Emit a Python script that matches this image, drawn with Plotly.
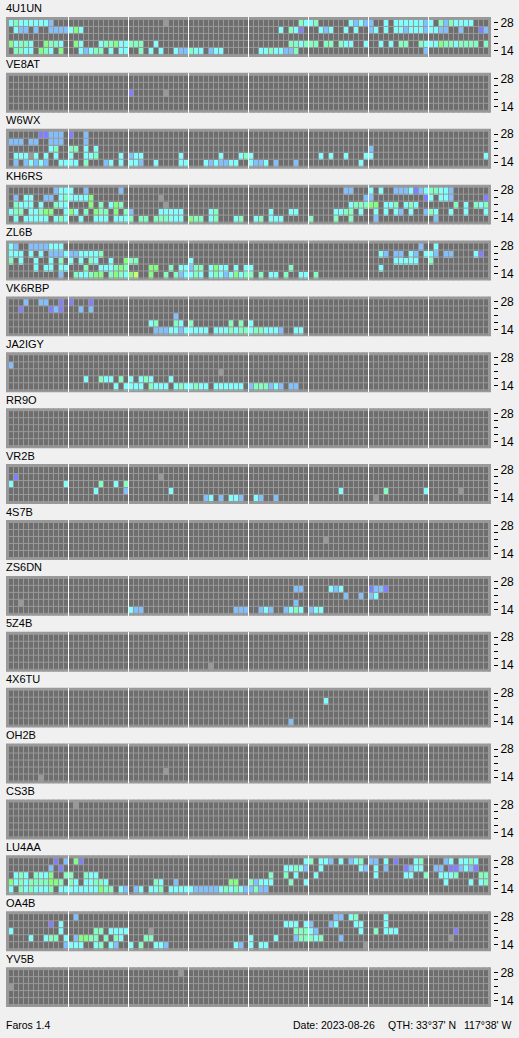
import re
import plotly.graph_objects as go

# Each station: five rows, top (28 MHz) to bottom (14 MHz); tokens are "<slot><level>"
S_4U1UN = [
 "0c 1a 2c 3c 4c 5c 6c 7c 8b 31g 58a 59c 60c 61a 68c 69b 70c 71b 72b 75c 77c 78c 79c 80c 81c 82c 83b 84c 86a 87b 88a 89c 90c 91c 92c",
 "1c 2b 3b 5b 8b 9b 10b 11b 12c 13n 14c 54c 56a 57c 58p 62c 63b 64c 67c 69c 72b 73c 75c 77c 78c 79b 80c 81c 82c 83b 84c 85c 86b 87b 90b 94p 95b",
 "",
 "0n 1c 2a 3a 4c 7n 8a 9a 10c 13n 14c 18c 19a 20a 21n 22c 23c 24a 25a 26a 29c 56a 57a 58c 59a 60a 61a 63a 64a 66a 67c 68c 71c 74c 76c 78a 79a 82a 83c 84c 85c 86n 87a 88a 89c 90a 91a 92a 93a 95a",
 "1a 2a 3c 4c 6n 7a 8c 10n 14c 15b 16c 17a 18a 20c 22c 23c 26a 28c 30c 33c 34b 35b 36a 37c 38c 40b 41c 42c 50c 51c 52a 53c 54c 55b 56b 57a 83b",
]
S_VE8AT = ["", "", "24p 31g", "", ""]
S_W6WX = [
 "6p 7p 8b 9b 10b 12p 15b",
 "0b 1b 2b 4b 5b 8b 9b 10b 15b",
 "8c 9a 12a 13a 15c 17c 72b",
 "1c 2c 3c 4g 5c 7c 9c 12c 15c 16c 17a 22c 24b 25c 26c 34c 42c 46c 47a 48c 62c 64c 67c 71c 72c 95c",
 "1b 3b 4c 5b 6c 7b 10c 11c 12c 13c 15a 19b 20c 22c 24c 25c 26b 29c 34c 35c 39c 40b 41c 42b 43b 44c 45c 48c 49b 50b 51c 53b 57b 70c",
]
S_KH6RS = [
 "9b 10c 11c 12c 15b 22b 67b 68b 72c 74c 77b 78b 79b 80c 81p 82b 83c 84a 85a 86c 87c 88b",
 "1b 3c 4c 7b 8b 10c 11a 12c 13c 14c 15c 16n 30g 71b 72b 83p 84c 86c 87c 88b 95p",
 "1a 2c 3c 4c 6c 9a 10c 11c 16n 18a 20c 21n 22a 31g 68c 69a 70a 71a 72n 73n 75c 76c 77a 79c 80a 81c 89a 91c 93a 94c 95a",
 "0c 1a 2a 4c 5c 6a 7n 8n 11c 12n 13c 15a 17n 18a 19a 21n 23a 24b 30c 31c 32c 33c 34c 40c 41a 52c 56c 57c 65c 66c 67a 68a 70c 73c 75c 77c 78b 80c 83b 84a 85c 88c 91c 95c",
 "1c 3c 4c 5c 6c 7c 9c 10a 11c 14c 17c 18c 19c 21c 22c 23c 24a 26a 27a 29a 30a 31a 32c 33c 34c 36n 37a 38a 40c 41a 45c 46a 49c 50a 52c 53c 54c 60a 65a 68a 73b 85b",
]
S_ZL6B = [
 "0c 1b 4b 5b 6b 7b 8c 9c 10c 82b 85c",
 "0c 1c 2c 4c 6c 8b 9b 10b 11c 12b 13b 14c 15c 16c 17c 18a 74c 75b 77b 78b 80c 81b 83c 84c 85b 87b 88b 93c 94p",
 "0a 2c 5c 8c 10a 12c 14c 16a 17c 20c 23n 24a 25a 36c 77c 78c 79c 80c 81c 84a",
 "5c 7c 8c 10c 11c 15a 18c 19c 20c 21a 22n 23a 28n 29n 32a 34c 35c 36b 37a 38a 40c 41n 42c 43c 45c 47c 48c 56a 74c",
 "10b 13a 14c 15c 16a 17n 18n 20a 21n 22a 23c 24n 25y 28n 31a 33a 34b 35c 36c 37a 38c 40c 41a 42c 43b 44c 45n 46c 47a 48a 50a 52c 53c 55a 58c 59c 61a",
]
S_VK6RBP = [
 "3b 6b 7b 10p 12p 16p",
 "2p 8p 9b 10p 14b 16b",
 "33b",
 "28c 29a 33a 34c 36a 44a 46a 48c",
 "29b 30b 31b 32c 33c 34b 35c 36c 37c 38c 39c 41c 42c 43c 44a 45c 46a 47a 48c 49a 50a 51c 52c 53c 54b 57c 58c",
]
S_JA2IGY = [
 "",
 "0b",
 "42g",
 "15c 18a 19c 20c 22a 24c 26c 27a 28c 32c",
 "21c 23c 24c 25c 26c 28a 29c 30c 31c 33c 34a 35c 36c 37a 38c 39c 41c 42c 43c 44c 45c 46c 48b 49a 50a 51a 52b 53c 54b 56b 57b",
]
S_RR9O = ["", "", "", "", ""]
S_VR2B = [
 "",
 "1p 30g",
 "0c 11c 18a 21c 23a",
 "17c 23b 32c 66c 75a 83c 90g",
 "39b 40c 42b 44c 45c 46b 49c 50b 53b 73g",
]
S_4S7B = ["", "", "63g", "", ""]
S_ZS6DN = [
 "",
 "57b 58b 64c 65b 66c 72p 73b 74b 75p",
 "67b 70b 72b 73c",
 "2g 57b",
 "24c 25b 26b 45b 46b 47b 50b 51c 52b 55b 56c 57a 58c 60b 61c 62c",
]
S_5Z4B = ["", "", "", "", "40g"]
S_4X6TU = ["", "63c", "", "", "56b"]
S_OH2B = ["", "", "", "31g", "6g"]
S_CS3B = ["13g", "", "", "", ""]
S_LU4AA = [
 "9p 11b 13n 14p 59c 60a 62c 63c 64b 66c 68b 69c 70a 72b 73b 75c 77p 81c 82a 87b 88c 90c 91c 92a 93c",
 "8b 10p 55c 56c 57a 58c 59b 62c 70c 71b 73c 75b 79p 80b 81c 82c 85b 86b 88p 89p 90b 91c 92b 93p",
 "1c 2a 3c 5a 6c 7c 8n 11a 12a 15a 16c 17c 52a 55a 57c 61c 73c 79c 80c 83a 86c 87c 88c 89a 94a 95a",
 "0n 1c 2a 3c 4a 5a 6a 7a 8n 9n 10a 12a 13c 15c 16c 17a 18a 19c 29a 30c 33b 44n 45n 48a 49b 50c 51c 52c 56a 59c 87c 92c 94c 95a",
 "0c 2a 3c 4a 5c 6c 7c 8a 10c 11c 12c 13c 14c 15c 16c 17c 18n 19a 20a 22c 23b 25b 26c 28c 29c 30a 32c 33c 34c 35c 36c 37b 38b 39b 40b 41b 42c 43a 44c 45a 46c 47b 48b 49a 50b 51b",
]
S_OA4B = [
 "13b 65b 66b 68c 69a 75c",
 "8p 10c 55c 56c 57c 59c 60b 64b 65c 69c 70c 75c",
 "0c 10c 17a 18a 20c 21c 22c 23c 28g 57a 58a 59a 60c 61b 70c 73a 75c 76c 77c 89p",
 "4c 7c 8a 9a 11c 13b 14n 15n 16a 17a 19a 21a 22c 27a 28a 48c 53c 57b 58a 59a 60a 61c 62a 66b 88g",
 "11b 12c 13c 14c 17c 18a 20c 21b 24c 26a 29c 30c 31b 45c 46b 48c 50c 51c 71g",
]
S_YV5B = ["34g", "", "0g", "", ""]

STATIONS = ["4U1UN", "VE8AT", "W6WX", "KH6RS", "ZL6B", "VK6RBP", "JA2IGY", "RR9O", "VR2B",
            "4S7B", "ZS6DN", "5Z4B", "4X6TU", "OH2B", "CS3B", "LU4AA", "OA4B", "YV5B"]
ROWS = [S_4U1UN, S_VE8AT, S_W6WX, S_KH6RS, S_ZL6B, S_VK6RBP, S_JA2IGY, S_RR9O, S_VR2B,
        S_4S7B, S_ZS6DN, S_5Z4B, S_4X6TU, S_OH2B, S_CS3B, S_LU4AA, S_OA4B, S_YV5B]
BAND_LABELS = ["14", "", "", "", "28"]
SLOTS = 96
BANDS = 5
SLOTS_PER_BLOCK = 12
LEVEL_CODES = {"g": 1, "p": 2, "b": 3, "c": 4, "a": 5, "n": 6, "y": 7}
LEVEL_COLORS = ["#6e6e6e", "#999999", "#8080ff", "#80c0ff", "#80ffff", "#80ffc0", "#80ff80", "#c8ff70"]
FOOTER_LEFT = "Faros 1.4"
FOOTER_DATE = "Date: 2023-08-26"
FOOTER_QTH = "QTH: 33°37' N"
FOOTER_LON = "117°38' W"

W, H = 519, 1038
PAGE = "#f0f0f0"
FONT = "Liberation Sans"

def grid(rows):
    z = [[0] * SLOTS for _ in rows]
    for r, text in enumerate(rows):
        for slot, code in re.findall(r"(\d+)([a-z])", text):
            z[r][int(slot)] = LEVEL_CODES[code]
    return z[::-1]

n = len(LEVEL_COLORS)
colorscale = []
for i, c in enumerate(LEVEL_COLORS):
    colorscale += [[i / n, c], [(i + 1) / n, c]]

# pixel geometry: slots step 5px, bands step 7px, cells are separated by 1px lines
XP, YP = 5.0, 7.0
XMIN, XMAX, XEDGE = -1.1, 96.3, 95.9
YMIN, YMAX = -0.5 - 2 / YP, BANDS - 0.5 + 3 / YP
LINE_Y = 3 / YP               # offset of the 1px separator under a band centre

sep_x, sep_y = [], []
for i in range(SLOTS):
    sep_x += [i + 0.4, i + 0.4, None]
    sep_y += [YMIN, YMAX, None]
for r in range(BANDS):
    sep_x += [XMIN, XEDGE, None]
    sep_y += [r - LINE_Y, r - LINE_Y, None]

fig = go.Figure()
shapes, annotations = [], []
top0, pitch, ph = 16, 56, 40
pl, pr = 6, 493     # plot area, extended 2px past the panel so the ticks stand off

for k, (name, rows) in enumerate(zip(STATIONS, ROWS)):
    ax = "" if k == 0 else str(k + 1)
    fig.add_trace(go.Heatmap(z=grid(rows), x=list(range(SLOTS)), y=list(range(BANDS)),
                             xaxis="x" + ax, yaxis="y" + ax, zmin=-0.5, zmax=n - 0.5,
                             colorscale=colorscale, showscale=False, hoverinfo="skip"))
    fig.add_trace(go.Scatter(x=sep_x, y=sep_y, mode="lines", xaxis="x" + ax, yaxis="y" + ax,
                             line=dict(color=LEVEL_COLORS[1], width=1, simplify=False),
                             hoverinfo="skip", cliponaxis=True))
    top = top0 + k * pitch
    fig.layout["xaxis" + ax] = dict(domain=[pl / W, pr / W], range=[XMIN, XMAX],
                                    visible=False, anchor="y" + ax, fixedrange=True)
    fig.layout["yaxis" + ax] = dict(domain=[1 - (top + ph) / H, 1 - top / H],
                                    range=[YMIN, YMAX],
                                    anchor="x" + ax, side="right", showgrid=False, zeroline=False,
                                    showline=False, ticks="outside", ticklen=4, tickwidth=1,
                                    tickcolor="#000000", tickmode="array",
                                    tickvals=[r + 1 / YP for r in range(BANDS)],
                                    ticktext=BAND_LABELS, tickfont=dict(family=FONT, size=12, color="#000000"),
                                    fixedrange=True)
    shapes.append(dict(type="rect", layer="below", xref="x" + ax, yref="y" + ax + " domain",
                       x0=XMIN, x1=XEDGE, y0=0, y1=1, line_width=0, fillcolor=LEVEL_COLORS[1]))
    for b in range(SLOTS_PER_BLOCK, SLOTS, SLOTS_PER_BLOCK):
        shapes.append(dict(type="line", layer="above", xref="x" + ax, yref="y" + ax + " domain",
                           x0=b - 0.6, x1=b - 0.6, y0=0, y1=1, line=dict(color="#ffffff", width=1)))
    annotations.append(dict(text=name, xref="paper", yref="paper", x=4 / W, y=1 - (top - 8.5) / H,
                            xanchor="left", yanchor="middle", showarrow=False,
                            font=dict(family=FONT, size=11, color="#000000")))

for text, px in [(FOOTER_LEFT, 4), (FOOTER_DATE, 291), (FOOTER_QTH, 386), (FOOTER_LON, 462)]:
    annotations.append(dict(text=text, xref="paper", yref="paper", x=px / W, y=1 - 1026 / H,
                            xanchor="left", yanchor="middle", showarrow=False,
                            font=dict(family=FONT, size=10.5, color="#000000")))

fig.update_layout(width=W, height=H, margin=dict(l=0, r=0, t=0, b=0), paper_bgcolor=PAGE,
                  plot_bgcolor="rgba(0,0,0,0)", showlegend=False, shapes=shapes, annotations=annotations)
fig.write_html("out.html", config=dict(displayModeBar=False),
               post_script="document.body.style.margin='0';document.body.style.background='%s';document.documentElement.style.overflow='hidden';" % PAGE)
